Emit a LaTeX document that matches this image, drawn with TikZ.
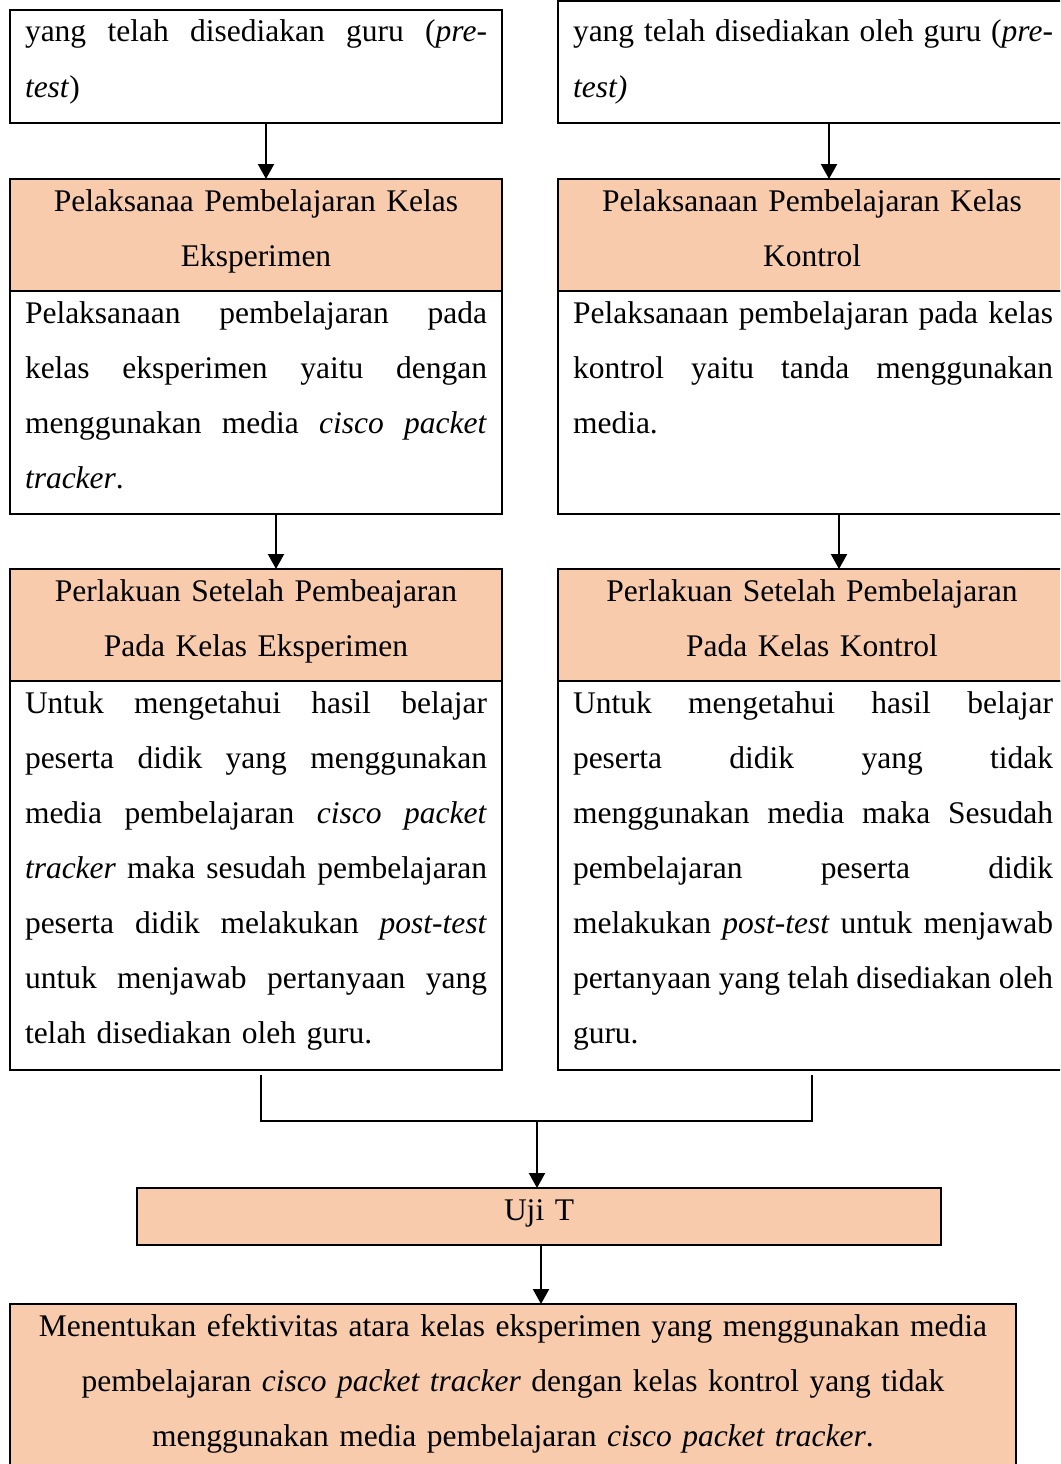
\documentclass[tikz,border=0pt]{standalone}
\usepackage{fontspec}
\setmainfont{Liberation Serif}
\usetikzlibrary{arrows.meta}
\definecolor{peach}{RGB}{247,203,172}
\newcommand\jl[2]{\makebox[#1][s]{\spaceskip=0pt\xspaceskip=0pt #2}}
\newcommand\fst{\rule{0pt}{32pt}}
\begin{document}
\begin{tikzpicture}[x=1pt,y=-1pt,
  frame/.style={draw=black,line width=1.8pt,inner sep=0pt,outer sep=0pt,anchor=north west},
  head/.style={frame,fill=peach},
  txt/.style={inner sep=0pt,outer sep=0pt,anchor=north west,font=\fontsize{31.5}{55}\selectfont,align=left},
  ctr/.style={inner sep=0pt,outer sep=0pt,anchor=north,font=\fontsize{31.5}{55}\selectfont,align=center},
  arr/.style={line width=2.2pt,-{Triangle[width=16pt,length=15pt]}},
  link/.style={line width=1.4pt}]
\useasboundingbox (0,0) rectangle (1060,1464);
\clip (0,0) rectangle (1060,1464);
% boxes
\node[frame,minimum width=492pt,minimum height=113pt] (b1L) at (10,10) {};
\node[frame,minimum width=508pt,minimum height=122pt] (b1R) at (558,1) {};
\node[head,minimum width=492pt,minimum height=112pt] (h2L) at (10,179) {};
\node[frame,minimum width=492pt,minimum height=223pt] (d2L) at (10,291) {};
\node[head,minimum width=508pt,minimum height=112pt] (h2R) at (558,179) {};
\node[frame,minimum width=508pt,minimum height=223pt] (d2R) at (558,291) {};
\node[head,minimum width=492pt,minimum height=112pt] (h3L) at (10,569) {};
\node[frame,minimum width=492pt,minimum height=389pt] (d3L) at (10,681) {};
\node[head,minimum width=508pt,minimum height=112pt] (h3R) at (558,569) {};
\node[frame,minimum width=508pt,minimum height=389pt] (d3R) at (558,681) {};
\node[head,minimum width=804pt,minimum height=57pt] (uji) at (137,1188) {};
\node[head,minimum width=1006pt,minimum height=190pt] (fin) at (10,1304) {};
% texts
\node[txt,text width=462pt] (t1L) at (25,10) {\fst\jl{462pt}{yang telah disediakan guru (\textit{pre-}}\\\textit{test})};
\node[txt,text width=480pt] (t1R) at (573,10) {\fst\jl{480pt}{yang telah disediakan oleh guru (\textit{pre-}}\\\textit{test)}};
\node[ctr,text width=492pt] (th2L) at (256,179) {\fst Pelaksanaa Pembelajaran Kelas\\Eksperimen};
\node[ctr,text width=508pt] (th2R) at (812,179) {\fst Pelaksanaan Pembelajaran Kelas\\Kontrol};
\node[txt,text width=462pt] (td2L) at (25,291) {\fst\jl{462pt}{Pelaksanaan pembelajaran pada}\\
  \jl{462pt}{kelas eksperimen yaitu dengan}\\
  \jl{462pt}{menggunakan media \textit{cisco packet}}\\
  \textit{tracker}.};
\node[txt,text width=480pt] (td2R) at (573,291) {\fst\jl{480pt}{Pelaksanaan pembelajaran pada kelas}\\
  \jl{480pt}{kontrol yaitu tanda menggunakan}\\
  media.};
\node[ctr,text width=492pt] (th3L) at (256,569) {\fst Perlakuan Setelah Pembeajaran\\Pada Kelas Eksperimen};
\node[ctr,text width=508pt] (th3R) at (812,569) {\fst Perlakuan Setelah Pembelajaran\\Pada Kelas Kontrol};
\node[txt,text width=462pt] (td3L) at (25,681) {\fst\jl{462pt}{Untuk mengetahui hasil belajar}\\
  \jl{462pt}{peserta didik yang menggunakan}\\
  \jl{462pt}{media pembelajaran \textit{cisco packet}}\\
  \jl{462pt}{\textit{tracker} maka sesudah pembelajaran}\\
  \jl{462pt}{peserta didik melakukan \textit{post-test}}\\
  \jl{462pt}{untuk menjawab pertanyaan yang}\\
  telah disediakan oleh guru.};
\node[txt,text width=480pt] (td3R) at (573,681) {\fst\jl{480pt}{Untuk mengetahui hasil belajar}\\
  \jl{480pt}{peserta didik yang tidak}\\
  \jl{480pt}{menggunakan media maka Sesudah}\\
  \jl{480pt}{pembelajaran peserta didik}\\
  \jl{480pt}{melakukan \textit{post-test} untuk menjawab}\\
  \jl{480pt}{pertanyaan yang telah disediakan oleh}\\
  guru.};
\node[ctr,text width=804pt] (tuji) at (539,1188) {\fst Uji T};
\node[ctr,text width=1006pt] (tfin) at (513,1304) {\fst Menentukan efektivitas atara kelas eksperimen yang menggunakan media\\
  pembelajaran \textit{cisco packet tracker} dengan kelas kontrol yang tidak\\
  menggunakan media pembelajaran \textit{cisco packet tracker}.};
% connectors
\draw[arr] ([xshift=10pt]b1L.south) -- ([xshift=10pt]h2L.north);
\draw[arr] ([xshift=17pt]b1R.south) -- ([xshift=17pt]h2R.north);
\draw[arr] ([xshift=20pt]d2L.south) -- ([xshift=20pt]h3L.north);
\draw[arr] ([xshift=27pt]d2R.south) -- ([xshift=27pt]h3R.north);
\coordinate (cL) at ([xshift=5pt,yshift=-5pt]d3L.south);
\coordinate (cR) at ([yshift=-5pt]d3R.south);
\coordinate (m) at (537,1121);
\draw[link] (cL) |- (m) -| (cR);
\draw[arr] (m) -- (m |- uji.north);
\coordinate (u) at ([xshift=2pt]uji.south);
\draw[arr] (u) -- (u |- fin.north);
\end{tikzpicture}
\end{document}
